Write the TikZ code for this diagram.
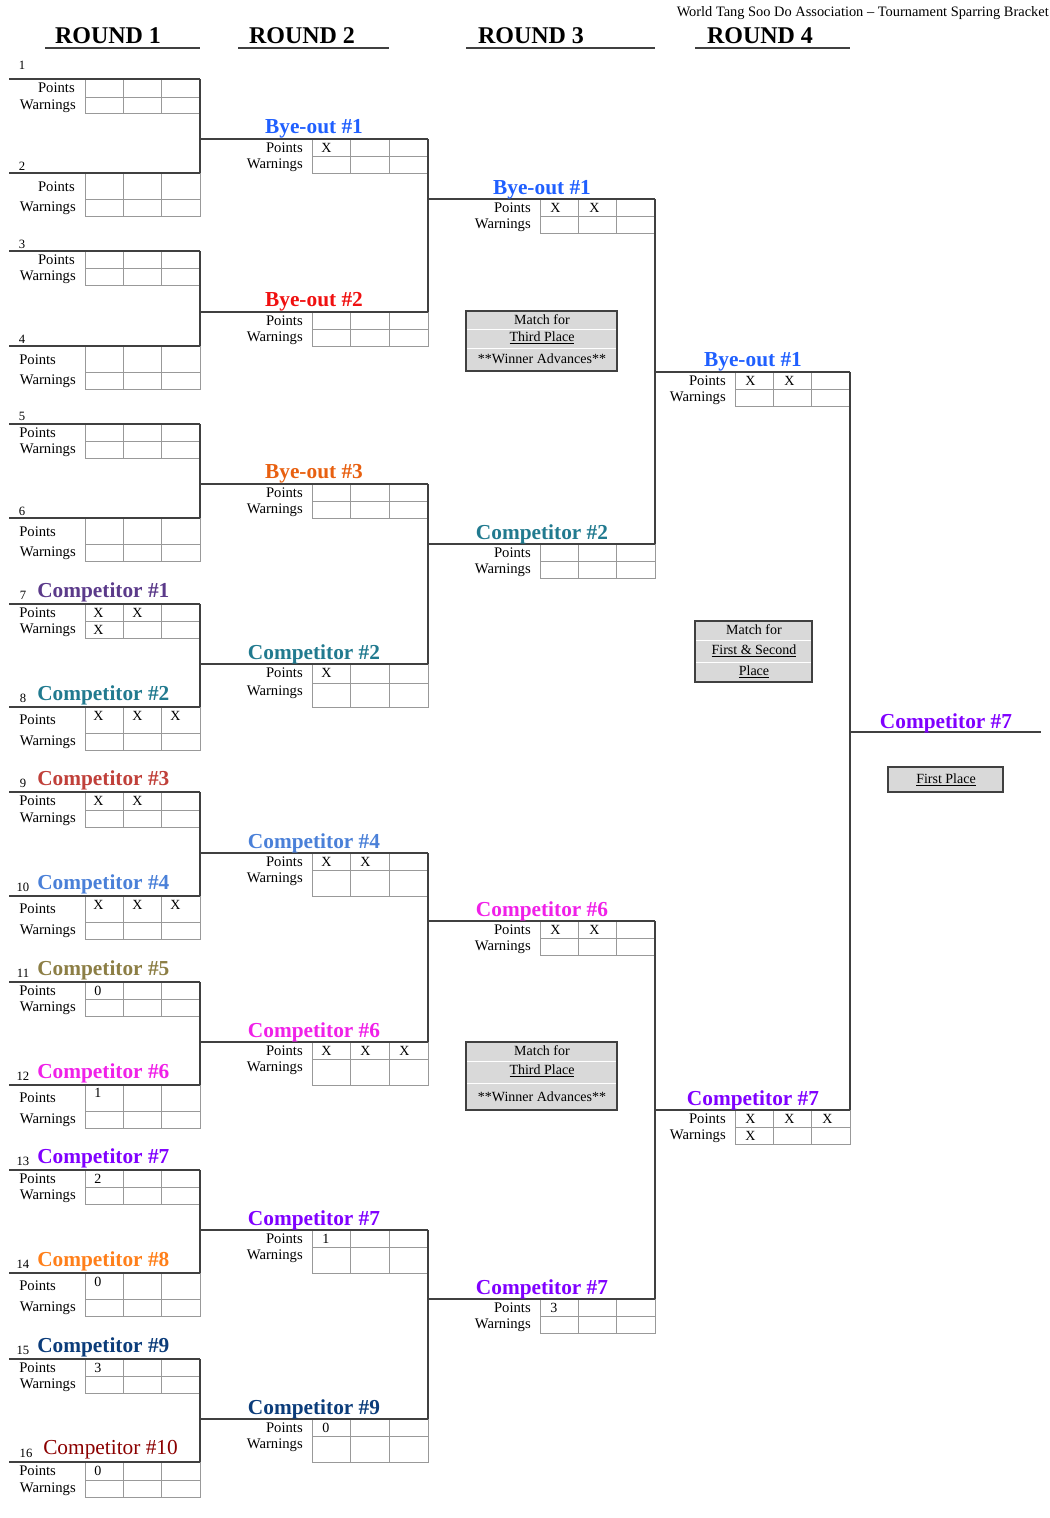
\documentclass[tikz,border=0pt]{standalone}
\usepackage{fontspec}
\setmainfont{Liberation Serif}
\begin{document}
\begin{tikzpicture}[x=0.75pt,y=-0.75pt,
  br/.style={draw=black!75,line width=1pt},
  gridc/.style={draw=black!40,line width=0.7pt},
  lbl/.style={font=\fontsize{11}{12}\selectfont,inner sep=0pt},
  mk/.style={font=\fontsize{10.5}{11}\selectfont,inner sep=0pt,anchor=west},
  hd/.style={font=\fontsize{18}{20}\selectfont\bfseries,inner sep=0pt},
  ttl/.style={font=\fontsize{16}{17}\selectfont\bfseries,inner sep=0pt},
  num/.style={font=\fontsize{9.5}{10}\selectfont,inner sep=0pt},
  gbox/.style={fill=black!15,draw=black!75,line width=1pt},
  btxt/.style={font=\fontsize{10.5}{11}\selectfont,inner sep=0pt}]
\useasboundingbox (0,0) rectangle (1050,1518);
\definecolor{cA}{HTML}{5B3A8A}\definecolor{cB}{HTML}{217A8F}
\definecolor{cC}{HTML}{C0403A}\definecolor{cD}{HTML}{4A80D8}
\definecolor{cE}{HTML}{8C7E45}\definecolor{cF}{HTML}{F020E8}
\definecolor{cG}{HTML}{8000FF}\definecolor{cH}{HTML}{FF7F1A}
\definecolor{cI}{HTML}{0B3C7A}\definecolor{cJ}{HTML}{8B0000}
\definecolor{bA}{HTML}{1F5FFF}\definecolor{bB}{HTML}{F01010}\definecolor{bC}{HTML}{E86010}
% #1 line start, #2 c0, #3 c3, #4 yt, #5 ym, #6 yb, #7 points y, #8 points x, #9 anchor
\newcommand\myslot[9]{%
  \pgfmathsetmacro\cw{(#3-#2)/3}%
  \draw[gridc] (#2,#4) rectangle (#3,#6);
  \draw[gridc] (#2,#5)--(#3,#5);
  \draw[gridc] (#2+\cw,#4)--(#2+\cw,#6) (#2+2*\cw,#4)--(#2+2*\cw,#6);
  \draw[br] (#1,#4)--(#3,#4);
  \node[lbl,anchor=#9] at (#8,#7) {Points};
  \node[lbl,anchor=east] at (#2-9,#5+9) {Warnings};
}
\newcommand\mkx[3]{\node[mk] at (#1,#2) {#3};}
% headers
\node[hd] (h1) at (108,36) {ROUND 1}; \draw[br] (45,48)--(200,48);
\node[hd] (h2) at (302,36) {ROUND 2}; \draw[br] (238,48)--(389,48);
\node[hd] (h3) at (531,36) {ROUND 3}; \draw[br] (466,48)--(655,48);
\node[hd] (h4) at (760,36) {ROUND 4}; \draw[br] (695,48)--(850,48);
\node[lbl,anchor=east,font=\fontsize{10.8}{11}\selectfont] (tt) at (1049,13) {World Tang Soo Do Association – Tournament Sparring Bracket};
% round 1
\myslot{9}{85}{200}{79}{97}{113}{88}{75}{east}
\myslot{9}{85}{200}{173}{199}{216}{187}{75}{east}
\myslot{9}{85}{200}{251}{268}{285}{260}{75}{east}
\myslot{9}{85}{200}{346}{372}{389}{360}{19}{west}
\myslot{9}{85}{200}{424}{441}{458}{433}{19}{west}
\myslot{9}{85}{200}{518}{544}{561}{532}{19}{west}
\myslot{9}{85}{200}{604}{621}{638}{613}{19}{west}
\myslot{9}{85}{200}{707}{733}{750}{720}{19}{west}
\myslot{9}{85}{200}{792}{810}{827}{801}{19}{west}
\myslot{9}{85}{200}{896}{922}{939}{909}{19}{west}
\myslot{9}{85}{200}{982}{999}{1016}{991}{19}{west}
\myslot{9}{85}{200}{1085}{1111}{1128}{1098}{19}{west}
\myslot{9}{85}{200}{1170}{1187}{1204}{1179}{19}{west}
\myslot{9}{85}{200}{1273}{1299}{1316}{1286}{19}{west}
\myslot{9}{85}{200}{1359}{1376}{1393}{1368}{19}{west}
\myslot{9}{85}{200}{1462}{1480}{1497}{1471}{19}{west}
\foreach \n/\y in {1/65,2/166,3/244,4/339,5/416,6/511}{\node[num] at (22,\y) {\n};}
\foreach \n/\y/\t/\c in {7/595/Competitor \#1/cA,8/698/Competitor \#2/cB,9/783/Competitor \#3/cC,10/887/Competitor \#4/cD,11/973/Competitor \#5/cE,12/1076/Competitor \#6/cF,13/1161/Competitor \#7/cG,14/1264/Competitor \#8/cH,15/1350/Competitor \#9/cI}{%
  \node[num] at (23,\y) {\n};
  \node[ttl,text=\c,anchor=west] at (37,\y-3) {\t};}
\node[num] at (26,1453) {16};
\node[font=\fontsize{16}{17}\selectfont,inner sep=0pt,text=cJ,anchor=west] at (43,1450) {Competitor \#10};
\mkx{93}{613}{X}\mkx{132}{613}{X}\mkx{93}{630}{X}
\mkx{93}{716}{X}\mkx{132}{716}{X}\mkx{170}{716}{X}
\mkx{93}{801}{X}\mkx{132}{801}{X}
\mkx{93}{905}{X}\mkx{132}{905}{X}\mkx{170}{905}{X}
\mkx{94}{991}{0}\mkx{94}{1093}{1}\mkx{94}{1179}{2}\mkx{94}{1282}{0}\mkx{94}{1368}{3}\mkx{94}{1471}{0}
% round 1 verticals
\foreach \a/\b in {79/173,251/346,424/518,604/707,792/896,982/1085,1170/1273,1359/1462}{\draw[br] (200,\a)--(200,\b);}
% round 2
\myslot{200}{312}{428}{139}{156}{173}{148}{303}{east}
\myslot{200}{312}{428}{312}{329}{346}{321}{303}{east}
\myslot{200}{312}{428}{484}{501}{518}{493}{303}{east}
\myslot{200}{312}{428}{664}{683}{707}{673}{303}{east}
\myslot{200}{312}{428}{853}{870}{896}{862}{303}{east}
\myslot{200}{312}{428}{1042}{1059}{1085}{1051}{303}{east}
\myslot{200}{312}{428}{1230}{1247}{1273}{1239}{303}{east}
\myslot{200}{312}{428}{1419}{1436}{1462}{1428}{303}{east}
\foreach \y/\t/\c in {129/Bye-out \#1/bA,302/Bye-out \#2/bB,474/Bye-out \#3/bC,654/Competitor \#2/cB,843/Competitor \#4/cD,1032/Competitor \#6/cF,1220/Competitor \#7/cG,1409/Competitor \#9/cI}{\node[ttl,text=\c] at (314,\y) {\t};}
\mkx{321}{148}{X}\mkx{321}{673}{X}
\mkx{321}{862}{X}\mkx{360}{862}{X}
\mkx{321}{1051}{X}\mkx{360}{1051}{X}\mkx{399}{1051}{X}
\mkx{322}{1239}{1}\mkx{322}{1428}{0}
\foreach \a/\b in {139/312,484/664,853/1042,1230/1419}{\draw[br] (428,\a)--(428,\b);}
% round 3
\myslot{428}{540}{655}{199}{216}{233}{208}{531}{east}
\myslot{428}{540}{655}{544}{561}{578}{553}{531}{east}
\myslot{428}{540}{655}{921}{938}{955}{930}{531}{east}
\myslot{428}{540}{655}{1299}{1316}{1333}{1308}{531}{east}
\foreach \y/\t/\c in {190/Bye-out \#1/bA,534/Competitor \#2/cB,911/Competitor \#6/cF,1289/Competitor \#7/cG}{\node[ttl,text=\c] at (542,\y) {\t};}
\mkx{550}{208}{X}\mkx{589}{208}{X}
\mkx{550}{930}{X}\mkx{589}{930}{X}
\mkx{550}{1308}{3}
\draw[br] (655,199)--(655,544); \draw[br] (655,921)--(655,1299);
% round 4
\myslot{655}{735}{850}{372}{389}{406}{381}{726}{east}
\myslot{655}{735}{850}{1110}{1127}{1144}{1119}{726}{east}
\node[ttl,text=bA] at (753,362) {Bye-out \#1};
\node[ttl,text=cG] at (753,1100) {Competitor \#7};
\mkx{745}{381}{X}\mkx{784}{381}{X}
\mkx{745}{1119}{X}\mkx{784}{1119}{X}\mkx{822}{1119}{X}\mkx{745}{1136}{X}
\draw[br] (850,372)--(850,1110);
\draw[br] (850,732)--(1041,732);
\node[ttl,text=cG] (win) at (946,723) {Competitor \#7};
% boxes
\draw[gbox] (466,311) rectangle (617,371);
\draw[white,line width=0.5pt] (467,329)--(616,329) (467,348)--(616,348);
\node[btxt] at (542,320) {Match for};
\node[btxt] at (542,338) {\underline{Third Place}};
\node[btxt] at (542,359) {**Winner Advances**};
\draw[gbox] (466,1042) rectangle (617,1110);
\draw[white,line width=0.5pt] (467,1061)--(616,1061) (467,1083)--(616,1083);
\node[btxt] at (542,1051) {Match for};
\node[btxt] at (542,1071) {\underline{Third Place}};
\node[btxt] at (542,1097) {**Winner Advances**};
\draw[gbox] (695,621) rectangle (812,682);
\draw[white,line width=0.5pt] (696,640)--(811,640) (696,662)--(811,662);
\node[btxt] at (754,630) {Match for};
\node[btxt] at (754,651) {\underline{First \& Second}};
\node[btxt] at (754,672) {\underline{Place}};
\draw[gbox] (888,767) rectangle (1003,792);
\node[btxt] at (946,780) {\underline{First Place}};
\end{tikzpicture}
\end{document}
